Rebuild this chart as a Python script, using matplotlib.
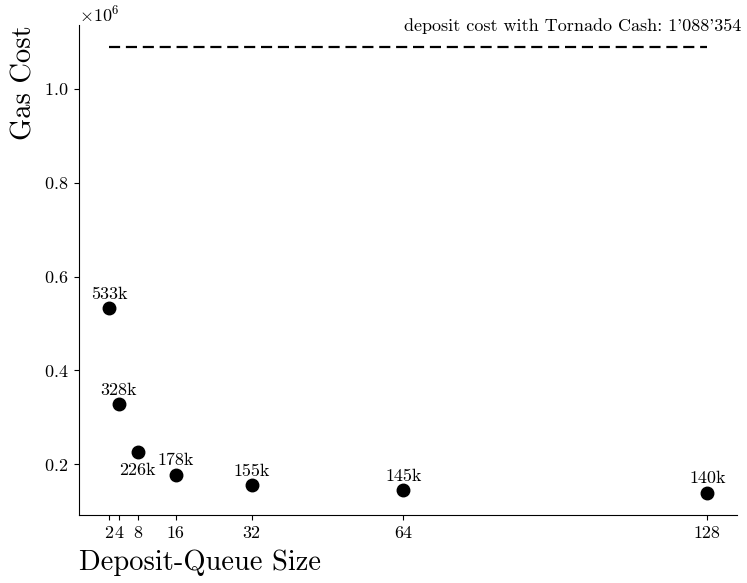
import numpy as np
import matplotlib.pyplot as plt

plt.rcParams['font.family'] = 'cmr10'
plt.rcParams['mathtext.fontset'] = 'cm'
plt.rcParams['axes.formatter.use_mathtext'] = True
plt.rcParams['axes.unicode_minus'] = False

queue_sizes = [2, 4, 8, 16, 32, 64, 128]
gas_cost = [533000, 328000, 226000, 178000, 155000, 145000, 140000]
labels = ['533k', '328k', '226k', '178k', '155k', '145k', '140k']
tornado_cost = 1088354

fig = plt.figure(figsize=(7.47, 5.83), dpi=100)
ax = fig.add_axes([0.106, 0.117, 0.881, 0.84])

ax.hlines(tornado_cost, queue_sizes[0], queue_sizes[-1], colors='k',
          linestyles=(0, (5, 2.6)), linewidth=1.6)
ax.text(135.2, 1.116e6, "deposit cost with Tornado Cash: 1'088'354",
        ha='right', va='bottom', fontsize=13)

ax.plot(queue_sizes, gas_cost, 'o', color='k', markersize=9)

for x, y, lab in zip(queue_sizes, gas_cost, labels):
    # the 226k label sits under its point so it clears the 178k one
    dy = -13 if lab == '226k' else 10
    ax.annotate(lab, (x, y), xytext=(0, dy), textcoords='offset points',
                ha='center', va='center', fontsize=13)

ax.set_xticks(queue_sizes)
ax.set_xticklabels([str(q) for q in queue_sizes])
ax.tick_params(labelsize=13, pad=4.5)
ax.set_xlabel('Deposit-Queue Size', fontsize=20.5, loc='left', labelpad=6)
ax.set_ylabel('Gas Cost', fontsize=20.5, loc='top')
ax.yaxis.get_offset_text().set_fontsize(13)

ax.spines['top'].set_visible(False)
ax.spines['right'].set_visible(False)

fig.savefig('out.png', dpi=100)
